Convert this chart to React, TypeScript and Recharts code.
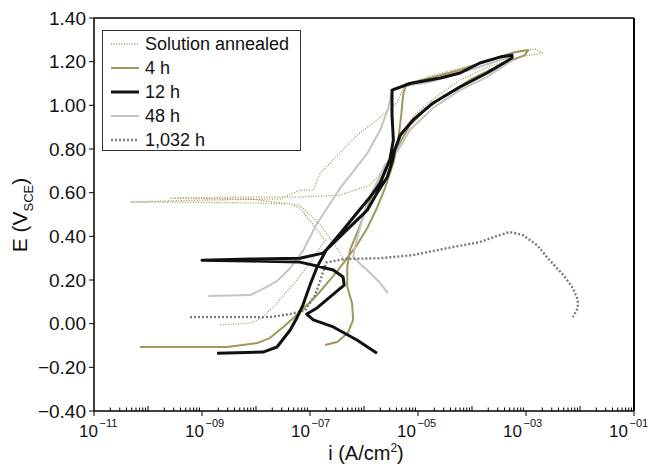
import { LineChart, Line, XAxis, YAxis, ReferenceLine } from "recharts"

const W = 653
const H = 464
const FONT = "'Liberation Sans', Arial, Helvetica, sans-serif"
const OLIVE = "#a0975a"

// [i (A/cm2), E (V_SCE)], in scan order
const SOL_ANNEALED: [number, number][] = [
  [2.15e-9, -0.006], [7.8e-9, 0.003], [1.3e-8, 0.026], [2.45e-8, 0.094], [5.7e-8, 0.2],
  [1.15e-7, 0.3], [1.9e-7, 0.383], [1.15e-7, 0.452], [6.5e-8, 0.53], [4.3e-8, 0.548],
  [7.8e-9, 0.553], [3.9e-10, 0.557], [4.7e-11, 0.557], [9.1e-10, 0.566], [2.75e-8, 0.571],
  [6.5e-8, 0.612], [1.15e-7, 0.612], [1.55e-7, 0.69], [3.6e-7, 0.782], [7.4e-7, 0.864],
  [1.74e-6, 0.933], [4.1e-6, 1.011], [5.3e-6, 1.079], [1.66e-5, 1.134], [9.1e-5, 1.18],
  [5.0e-4, 1.235], [1.5e-3, 1.258], [2.0e-3, 1.24], [7.8e-4, 1.221], [2.15e-4, 1.18],
  [6.0e-5, 1.116], [2.05e-5, 1.034], [8.7e-6, 0.956], [5.7e-6, 0.887], [3.7e-6, 0.805],
  [2.45e-6, 0.713], [1.3e-6, 0.635], [3.6e-7, 0.589], [6.5e-8, 0.58], [7.8e-9, 0.58],
  [2.6e-10, 0.575], [7.8e-9, 0.571], [6.5e-8, 0.543], [1.55e-7, 0.452], [2.9e-7, 0.36],
  [4.5e-7, 0.282],
]

const H4: [number, number][] = [
  [7.1e-11, -0.107], [2.9e-9, -0.107], [1.05e-8, -0.089], [1.8e-8, -0.066], [3.2e-8, -0.015],
  [5.7e-8, 0.04], [1.35e-7, 0.131], [3.2e-7, 0.241], [7.4e-7, 0.36], [1.15e-6, 0.438],
  [1.74e-6, 0.53], [2.45e-6, 0.621], [3.5e-6, 0.736], [4.3e-6, 0.841], [4.9e-6, 0.956],
  [5.3e-6, 1.047], [6.0e-6, 1.098], [1.66e-5, 1.125], [6.0e-5, 1.162], [2.15e-4, 1.208],
  [6.3e-4, 1.244], [1.1e-3, 1.253], [9.5e-4, 1.23], [3.3e-4, 1.185], [9.1e-5, 1.116],
  [3.2e-5, 1.047], [1.35e-5, 0.979], [7.1e-6, 0.91], [4.7e-6, 0.832], [3.0e-6, 0.75],
  [2.0e-6, 0.658], [1.4e-6, 0.589], [1.05e-6, 0.511], [7.4e-7, 0.415], [5.5e-7, 0.337],
  [4.9e-7, 0.259], [4.9e-7, 0.168], [6.0e-7, 0.094], [6.3e-7, 0.017], [5.0e-7, -0.043],
  [3.2e-7, -0.084], [1.9e-7, -0.098],
]

const H12: [number, number][] = [
  [1.9e-9, -0.135], [1.35e-8, -0.13], [2.45e-8, -0.107], [4.3e-8, -0.029], [5.7e-8, 0.026],
  [7.4e-8, 0.085], [1.0e-7, 0.177], [1.35e-7, 0.259], [2.0e-7, 0.337], [4.1e-7, 0.429],
  [7.4e-7, 0.507], [1.3e-6, 0.58], [2.0e-6, 0.644], [3.0e-6, 0.75], [3.5e-6, 0.841],
  [3.3e-6, 0.956], [3.3e-6, 1.07], [7.1e-6, 1.1], [2.6e-5, 1.125], [6.0e-5, 1.148],
  [1.4e-4, 1.194], [3.3e-4, 1.221], [5.5e-4, 1.23], [5.5e-4, 1.217], [1.9e-4, 1.148],
  [6.0e-5, 1.084], [1.9e-5, 1.011], [8.1e-6, 0.933], [4.7e-6, 0.864], [3.7e-6, 0.795],
  [3.3e-6, 0.74], [2.7e-6, 0.672], [1.74e-6, 0.598], [1.15e-6, 0.52], [5.5e-7, 0.443],
  [2.7e-7, 0.369], [1.74e-7, 0.323], [6.5e-8, 0.3], [7.8e-9, 0.296], [1.0e-9, 0.291],
  [7.8e-9, 0.287], [6.5e-8, 0.282], [1.35e-7, 0.264], [2.7e-7, 0.246], [4.1e-7, 0.214],
  [4.3e-7, 0.177], [3.2e-7, 0.15], [2.0e-7, 0.108], [1.35e-7, 0.072], [8.7e-8, 0.044],
  [1.15e-7, 0.017], [2.7e-7, -0.015], [7.4e-7, -0.075], [1.74e-6, -0.135],
]

const H48: [number, number][] = [
  [1.3e-9, 0.127], [7.8e-9, 0.131], [1.35e-8, 0.159], [2.45e-8, 0.195], [4.3e-8, 0.255],
  [7.4e-8, 0.333], [1.3e-7, 0.452], [3.6e-7, 0.62], [1.15e-6, 0.78], [2.0e-6, 0.887],
  [2.75e-6, 0.98], [3.2e-6, 1.047], [3.7e-6, 1.08], [1.66e-5, 1.107], [9.1e-5, 1.162],
  [5.7e-4, 1.226], [5.7e-4, 1.208], [1.9e-4, 1.13], [6.0e-5, 1.07], [1.9e-5, 0.988],
  [7.1e-6, 0.887], [4.3e-6, 0.795], [2.45e-6, 0.727], [1.74e-6, 0.649], [1.15e-6, 0.557],
  [8.5e-7, 0.443], [6.8e-7, 0.351], [6.3e-7, 0.305], [7.8e-7, 0.282], [1.3e-6, 0.232],
  [2.0e-6, 0.186], [2.75e-6, 0.14],
]

const H1032: [number, number][] = [
  [6.0e-10, 0.03], [3.3e-9, 0.03], [1.8e-8, 0.03], [4.3e-8, 0.044], [8.1e-8, 0.06],
  [1.24e-7, 0.13], [1.66e-7, 0.22], [2.0e-7, 0.28], [4.4e-7, 0.296], [2.0e-6, 0.3],
  [8.1e-6, 0.314], [3.5e-5, 0.346], [1.4e-4, 0.374], [3.3e-4, 0.406], [5.0e-4, 0.42],
  [8.7e-4, 0.406], [1.6e-3, 0.36], [2.75e-3, 0.29], [4.9e-3, 0.223], [7.4e-3, 0.163],
  [9.1e-3, 0.108], [9.1e-3, 0.072], [7.4e-3, 0.03],
]

const SERIES = [
  { name: "Solution annealed", pts: SOL_ANNEALED, color: OLIVE, width: 1.3, dash: "1 1.6" },
  { name: "4 h", pts: H4, color: OLIVE, width: 2, dash: undefined },
  { name: "12 h", pts: H12, color: "#111", width: 3, dash: undefined },
  { name: "48 h", pts: H48, color: "#c4c4c4", width: 2, dash: undefined },
  { name: "1,032 h", pts: H1032, color: "#7a7a7a", width: 2.4, dash: "2 2" },
]
const DRAW_ORDER = ["Solution annealed", "4 h", "48 h", "1,032 h", "12 h"]

const DECADES = [-11, -10, -9, -8, -7, -6, -5, -4, -3, -2, -1]
const MINOR = [2, 3, 4, 5, 6, 7, 8, 9]
const Y_TICKS = [-0.4, -0.2, 0, 0.2, 0.4, 0.6, 0.8, 1.0, 1.2, 1.4]

const xTicks: number[] = []
DECADES.forEach((d) => {
  xTicks.push(Math.pow(10, d))
  if (d < -1) MINOR.forEach((m) => xTicks.push(m * Math.pow(10, d)))
})

function XTick({ x, y, payload }: any) {
  const p = Math.log10(payload.value)
  const rp = Math.round(p)
  const decade = Math.abs(p - rp) < 1e-6
  if (decade && Math.abs(rp) % 2 === 1) {
    // labels drift a little leftwards across the axis in the original
    const dx = 4 - (10 * (x - 94)) / 540
    return (
      <g fontFamily={FONT}>
        <line x1={x} x2={x} y1={y} y2={y + 5} stroke="#000" strokeWidth={1} />
        <text x={x + dx} y={y + 26} textAnchor="end" fontSize={17} fill="#111">10</text>
        <text x={x + dx + 1.5} y={y + 16} fontSize={11} fill="#111">{"\u2212" + String(-rp).padStart(2, "0")}</text>
      </g>
    )
  }
  return <line x1={x} x2={x} y1={y} y2={y - (decade ? 5 : 3.5)} stroke="#000" strokeWidth={1} />
}

function YTick({ x, y, payload }: any) {
  const s = payload.value.toFixed(2).replace("-", "\u2212")
  return (
    <g fontFamily={FONT}>
      <line x1={x - 5} x2={x} y1={y} y2={y} stroke="#000" strokeWidth={1} />
      <text x={x - 8} y={y} dy={6.8} textAnchor="end" fontSize={19} fill="#111">{s}</text>
    </g>
  )
}

export default function App() {
  const drawn = DRAW_ORDER.map((n) => SERIES.find((s) => s.name === n)!)
  return (
    <div style={{ position: "absolute", left: 0, top: 0, width: W, height: H, background: "#fff", fontFamily: FONT }}>
      <LineChart width={W} height={H} margin={{ top: 18, right: 19, left: 34, bottom: 23 }}>
        <XAxis
          dataKey="i" type="number" scale="log" domain={[1e-11, 1e-1]} allowDataOverflow
          ticks={xTicks} interval={0} tick={<XTick />} tickLine={false} tickSize={0} tickMargin={0}
          height={30} axisLine={{ stroke: "#000", strokeWidth: 1.5 }}
        />
        <YAxis
          dataKey="e" type="number" domain={[-0.4, 1.4]} allowDataOverflow
          ticks={Y_TICKS} interval={0} tick={<YTick />} tickLine={false} tickSize={0} tickMargin={0}
          width={60} axisLine={{ stroke: "#000", strokeWidth: 1.5 }}
        />
        <ReferenceLine y={1.4} stroke="#000" strokeWidth={1.5} />
        <ReferenceLine x={1e-1} stroke="#000" strokeWidth={2} />
        {drawn.map((s) => (
          <Line
            key={s.name}
            data={s.pts.map(([i, e]) => ({ i, e }))}
            dataKey="e"
            type="linear"
            stroke={s.color}
            strokeWidth={s.width}
            strokeDasharray={s.dash}
            strokeLinejoin="round"
            dot={false}
            activeDot={false}
            isAnimationActive={false}
          />
        ))}
      </LineChart>

      {/* legend */}
      <div style={{ position: "absolute", left: 102, top: 30, width: 199, height: 121, border: "1px solid #333", boxSizing: "border-box", background: "#fff" }}>
        {SERIES.map((s, k) => (
          <div key={s.name} style={{ position: "absolute", left: 0, top: 1 + k * 24, height: 24, display: "flex", alignItems: "center" }}>
            <svg width={40} height={10} style={{ marginLeft: 7 }}>
              <line x1={1} x2={29} y1={5} y2={5} stroke={s.color} strokeWidth={s.width} strokeDasharray={s.dash} />
            </svg>
            <span style={{ fontSize: 18, color: "#111", marginLeft: -5, whiteSpace: "nowrap" }}>{s.name}</span>
          </div>
        ))}
      </div>

      {/* axis titles */}
      <div style={{ position: "absolute", left: 22, top: 215, transform: "translate(-50%,-50%) rotate(-90deg)", fontSize: 21, color: "#111", whiteSpace: "nowrap" }}>
        E (V<sub style={{ fontSize: 13 }}>SCE</sub>)
      </div>
      <div style={{ position: "absolute", left: 366, top: 453, transform: "translate(-50%,-50%)", fontSize: 20, lineHeight: "20px", color: "#111", whiteSpace: "nowrap" }}>
        i (A/cm<sup style={{ fontSize: 12, lineHeight: 0 }}>2</sup>)
      </div>
    </div>
  )
}
